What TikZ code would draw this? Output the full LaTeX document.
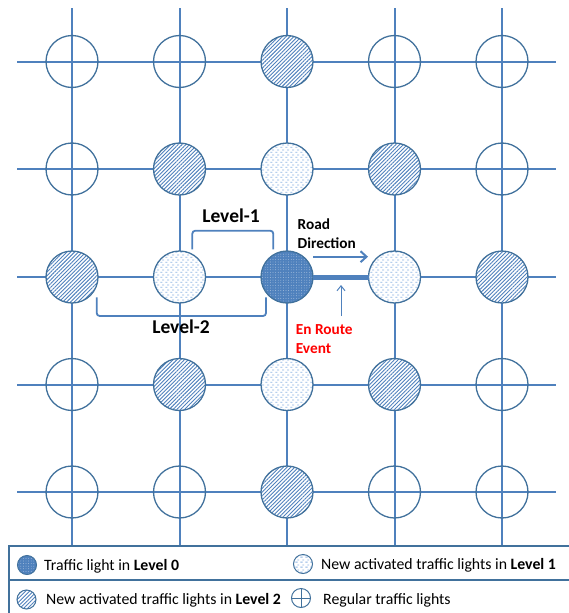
\documentclass[tikz,border=0pt]{standalone}
\usepackage{fontspec}
\setmainfont{Carlito}
\usetikzlibrary{patterns,patterns.meta,arrows.meta}
\definecolor{mainb}{HTML}{4F81BD}
\definecolor{olb}{HTML}{41719C}
\definecolor{lightb}{HTML}{8EB4E3}
\tikzdeclarepattern{
  name=hdash,
  type=uncolored,
  bottom left={(0pt,0pt)},
  top right={(5pt,5pt)},
  tile size={(5pt,5pt)},
  code={
    \draw[line width=0.9pt] (0.3pt,1pt) -- (2.9pt,1pt) (2.6pt,3.5pt) -- (4.9pt,3.5pt);
  }
}
\tikzset{
  gridline/.style={draw=mainb, line width=2pt},
  lt/.style={circle, inner sep=0pt, outer sep=0pt, minimum size=52pt, draw=olb, line width=1.3pt},
  reg/.style={lt},
  lvlzero/.style={lt, preaction={fill=mainb}, pattern={Dots[radius=0.45pt,distance=2.6pt]}, pattern color=white!55!mainb},
  lvlone/.style={lt, preaction={fill=white}, pattern=hdash, pattern color=lightb},
  lvltwo/.style={lt, preaction={fill=white}, pattern={Lines[angle=45,distance=2.7pt,line width=0.9pt]}, pattern color=mainb},
  small/.style={minimum size=19pt, line width=1pt},
  bracket/.style={draw=mainb, line width=1.8pt, rounded corners=3pt},
  road/.style={draw=mainb, line width=5pt},
  dirarrow/.style={draw=mainb, line width=2pt, -{Straight Barb[length=6pt,width=11pt,line width=2pt]}},
  evtarrow/.style={draw=mainb, line width=1pt, -{Straight Barb[length=5pt,width=8pt,line width=1pt]}},
  lvllabel/.style={font=\fontsize{19.5}{21}\selectfont\bfseries, inner sep=0pt},
  note/.style={font=\fontsize{15.3}{18.8}\selectfont\bfseries, align=left, inner sep=0pt, anchor=west},
  legtext/.style={font=\fontsize{15.8}{18}\selectfont, inner sep=0pt, anchor=west},
  legline/.style={draw=olb, line width=1.4pt}
}
\begin{document}
\begin{tikzpicture}[x=1pt,y=-1pt]
\useasboundingbox (0,0) rectangle (569,613);
% grid lines
\foreach \i/\y in {1/61.5,2/169,3/277,4/384.5,5/492} {
  \coordinate (hl\i) at (17,\y);
  \coordinate (hr\i) at (556,\y);
  \draw[gridline] (hl\i) -- (hr\i);
}
\foreach \j/\x in {1/72,2/179.5,3/287,4/394.5,5/502} {
  \coordinate (vt\j) at (\x,8);
  \coordinate (vb\j) at (\x,546);
  \draw[gridline] (vt\j) -- (vb\j);
}
% traffic lights
\foreach \r/\y/\a/\b/\c/\d/\e in {
  1/61.5/reg/reg/lvltwo/reg/reg,
  2/169/reg/lvltwo/lvlone/lvltwo/reg,
  3/277/lvltwo/lvlone/lvlzero/lvlone/lvltwo,
  4/384.5/reg/lvltwo/lvlone/lvltwo/reg,
  5/492/reg/reg/lvltwo/reg/reg} {
  \node[\a] (c\r1) at (72,\y) {};
  \node[\b] (c\r2) at (179.5,\y) {};
  \node[\c] (c\r3) at (287,\y) {};
  \node[\d] (c\r4) at (394.5,\y) {};
  \node[\e] (c\r5) at (502,\y) {};
}
% road segment
\draw[road] (c33.east) -- (c34.west);
% brackets
\coordinate (b1a) at (192.3,249.3);
\coordinate (b1b) at (273.3,249.3);
\draw[bracket] (b1a) -- (192.3,230.7) -- (273.3,230.7) -- (b1b);
\coordinate (b2a) at (96.7,297.3);
\coordinate (b2b) at (266,297.3);
\draw[bracket] (b2a) -- (96.7,316) -- (266,316) -- (b2b);
\node[lvllabel] (l1) at (231,216) {Level-1};
\node[lvllabel] (l2) at (181,327) {Level-2};
% road direction
\node[note] (rd) at (297.5,233.5) {Road\\Direction};
\coordinate (da) at (313,256.7);
\coordinate (db) at (368,256.7);
\draw[dirarrow] (da) -- (db);
% en route event
\node[note, text=red] (ev) at (295.7,339) {En Route\\Event};
\coordinate (ea) at (341,316);
\coordinate (eb) at (341,285);
\draw[evtarrow] (ea) -- (eb);
% legend
\coordinate (lgtl) at (9,546);
\coordinate (lgtr) at (569,546);
\coordinate (lgml) at (9,580);
\coordinate (lgmr) at (569,580);
\coordinate (lgbl) at (9,613);
\draw[legline] (lgtr) -- (lgtl) -- (lgbl);
\draw[legline] (lgml) -- (lgmr);
\node[lvlzero, small] (k0) at (27,565) {};
\node[legtext] (t0) at (44,566) {Traffic light in \textbf{Level 0}};
\node[lvlone, small] (k1) at (303,564) {};
\node[legtext] (t1) at (321,565) {New activated traffic lights in \textbf{Level 1}};
\node[lvltwo, small] (k2) at (26.5,599.5) {};
\node[legtext] (t2) at (46,600) {New activated traffic lights in \textbf{Level 2}};
\node[reg, small] (k3) at (301,598) {};
\draw[draw=olb, line width=1pt] (k3.north) -- (k3.south) (k3.west) -- (k3.east);
\node[legtext] (t3) at (323,600) {Regular traffic lights};
\end{tikzpicture}
\end{document}
